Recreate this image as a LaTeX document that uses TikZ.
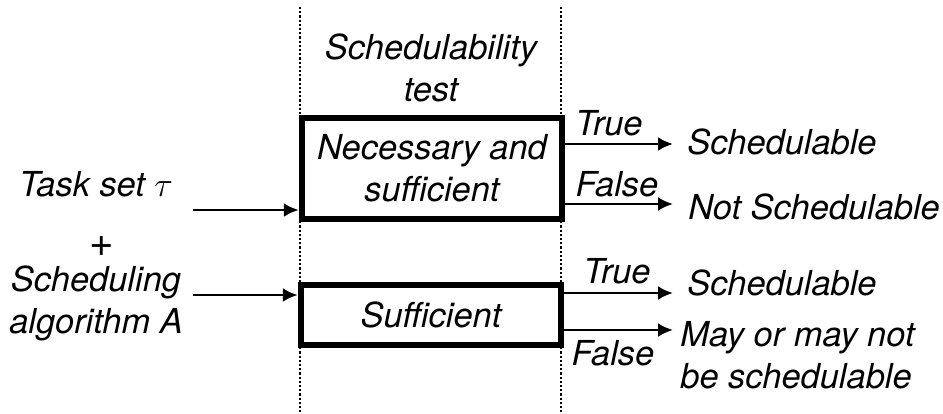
\documentclass[tikz,border=0pt]{standalone}
\usepackage{fontspec}
\setmainfont{TeX Gyre Heros}
\usetikzlibrary{arrows.meta}

\begin{document}
\begin{tikzpicture}[x=0.5pt, y=0.5pt,
    every node/.style={font=\fontsize{17.2}{21}\selectfont\itshape, inner sep=0pt},
    testbox/.style={draw, line width=3.2pt, align=center, minimum width=130pt},
    flow/.style={line width=1.4pt, -{Latex[length=7.5pt, width=7pt]}},
    divider/.style={line width=1.1pt, dash pattern=on 1.1pt off 1pt}]
    \useasboundingbox (0,0) rectangle (943,413);

    % Dotted separators around the test column
    \coordinate (leftTop) at (300,406);
    \coordinate (leftBot) at (300,0);
    \coordinate (rightTop) at (561,406);
    \coordinate (rightBot) at (561,0);
    \draw[divider] (leftTop) -- (leftBot);
    \draw[divider] (rightTop) -- (rightBot);

    % Column title and the two tests
    \node[align=center, anchor=base] (title) at (431,311) {Schedulability\\test};
    \node[testbox, fill=white, minimum height=50.5pt] (nec) at (432,244.5) {Necessary and\\sufficient};
    \node[testbox, fill=white, minimum height=30pt] (suf) at (431,98) {Sufficient};

    % Inputs
    \node[anchor=base] (taskset) at (96,216) {Task set $\tau$};
    \node[font=\fontsize{21}{24}\selectfont\itshape] (plus) at (102,166) {+};
    \node[align=center, anchor=base] (algo) at (96,80) {Scheduling\\algorithm A};
    \coordinate (in1) at (193,203);
    \coordinate (in2) at (193,118);
    \draw[flow] (in1) -- (in1 -| nec.west);
    \draw[flow] (in2) -- (in2 -| suf.west);

    % Outcomes of the necessary and sufficient test
    \coordinate (out1) at (673,269);
    \coordinate (out2) at (673,209);
    \draw[flow] (out1 -| nec.east) -- (out1);
    \draw[flow] (out2 -| nec.east) -- (out2);
    \node[anchor=base] (true1) at (609,277) {True};
    \node[anchor=base] (false1) at (617,216) {False};
    \node[anchor=base west] (sched1) at (687,258) {Schedulable};
    \node[anchor=base west] (notsched) at (688,193) {Not Schedulable};

    % Outcomes of the sufficient test
    \coordinate (out3) at (673,120);
    \coordinate (out4) at (673,83);
    \draw[flow] (out3 -| suf.east) -- (out3);
    \draw[flow] (out4 -| suf.east) -- (out4);
    \node[anchor=base] (true2) at (617,130) {True};
    \node[anchor=base] (false2) at (613,48) {False};
    \node[anchor=base west] (sched2) at (687,118) {Schedulable};
    \node[align=left, anchor=base west] (maybe) at (680,25) {May or may not\\be schedulable};

\end{tikzpicture}
\end{document}
